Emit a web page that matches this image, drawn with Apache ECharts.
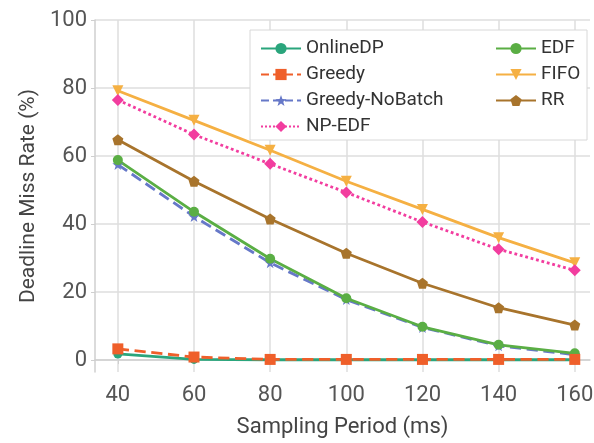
<!DOCTYPE html>
<html>
<head>
<meta charset="utf-8">
<script src="https://cdn.jsdelivr.net/npm/echarts@6/dist/echarts.min.js"></script>
<style>
  html, body { margin: 0; padding: 0; background: #fff; }
  #main { width: 594px; height: 443px; }
</style>
</head>
<body>
<div id="main"></div>
<script>
var periods = [40, 60, 80, 100, 120, 140, 160];
var xTicks = [40, 60, 80, 100, 120, 140, 160];
var yTicks = [0, 20, 40, 60, 80, 100];

var onlineDP = [1.8, 0.2, 0.1, 0.1, 0.1, 0.1, 0.1];
var greedy = [3.3, 0.9, 0.2, 0.2, 0.2, 0.2, 0.2];
var greedyNoBatch = [57.5, 42.2, 28.6, 17.8, 9.6, 4.2, 1.6];
var npEdf = [76.5, 66.3, 57.7, 49.3, 40.6, 32.6, 26.4];
var edf = [58.8, 43.6, 29.8, 18.2, 9.8, 4.5, 2.0];
var fifo = [79.2, 70.5, 61.7, 52.6, 44.3, 36.0, 28.6];
var rr = [64.8, 52.6, 41.5, 31.4, 22.6, 15.4, 10.3];

function pts(arr) {
  return arr.map(function (v, i) { return [periods[i], v]; });
}

var pentagon = 'path://M0,-10L9.51,-3.09L5.88,8.09L-5.88,8.09L-9.51,-3.09Z';
var star = 'path://M0,-10L2.35,-3.24L9.51,-3.09L3.8,1.24L5.88,8.09L0,4L-5.88,8.09L-3.8,1.24L-9.51,-3.09L-2.35,-3.24Z';

function line(name, data, color, symbol, size, type, rotate) {
  return {
    name: name,
    type: 'line',
    data: pts(data),
    symbol: symbol,
    symbolSize: size,
    symbolRotate: rotate || 0,
    lineStyle: { color: color, width: 2.8, type: type || 'solid' },
    itemStyle: { color: color },
    emphasis: { disabled: true }
  };
}

var mainDiv = document.getElementById('main');
var myChart = echarts.init(mainDiv);
var fontFam = 'Roboto, "Noto Sans", sans-serif';

var legendBase = {
  orient: 'vertical',
  top: 34,
  itemGap: 7,
  itemWidth: 40,
  itemHeight: 14,
  textStyle: { fontSize: 19, color: '#333', fontFamily: fontFam },
  z: 10
};

var option = {
  backgroundColor: '#ffffff',
  animation: false,
  textStyle: { fontFamily: fontFam },
  grid: { left: 95, right: 4, top: 20, bottom: 71, outerBoundsMode: 'none' },
  xAxis: {
    type: 'value',
    min: 34,
    max: 164,
    name: 'Sampling Period (ms)',
    nameLocation: 'middle',
    nameGap: 44,
    nameTextStyle: { fontSize: 22, color: '#444', fontFamily: fontFam },
    axisLine: { show: true, lineStyle: { color: '#cfcfcf', width: 1.5 } },
    axisTick: { show: true, length: 4, lineStyle: { color: '#cfcfcf' }, customValues: xTicks },
    axisLabel: { fontSize: 22, color: '#555', margin: 12, customValues: xTicks },
    splitLine: { show: true, lineStyle: { color: '#dedede', width: 1.5 } }
  },
  yAxis: {
    type: 'value',
    min: -3.5,
    max: 100,
    name: 'Deadline Miss Rate (%)',
    nameLocation: 'middle',
    nameGap: 56,
    nameTextStyle: { fontSize: 21, color: '#444', fontFamily: fontFam },
    axisLine: { show: true, lineStyle: { color: '#cfcfcf', width: 1.5 } },
    axisTick: { show: true, length: 4, lineStyle: { color: '#cfcfcf' }, customValues: yTicks },
    axisLabel: { fontSize: 22, color: '#555', margin: 8, customValues: yTicks },
    splitLine: { show: true, lineStyle: { color: '#dedede', width: 1.5 } }
  },
  graphic: [{
    type: 'rect',
    shape: { x: 250, y: 30, width: 337, height: 110 },
    style: { fill: '#ffffff', stroke: '#d8d8d8', lineWidth: 1 },
    z: 5
  }],
  legend: [
    Object.assign({}, legendBase, {
      left: 255,
      data: ['OnlineDP', 'Greedy', 'Greedy-NoBatch', 'NP-EDF']
    }),
    Object.assign({}, legendBase, {
      left: 490,
      data: ['EDF', 'FIFO', 'RR']
    })
  ],
  series: [
    line('Greedy-NoBatch', greedyNoBatch, '#6678c8', star, 11, 'dashed'),
    line('EDF', edf, '#5aae44', 'circle', 10),
    line('OnlineDP', onlineDP, '#2aa57c', 'circle', 9),
    line('Greedy', greedy, '#ef5f2a', 'rect', 11, 'dashed'),
    line('RR', rr, '#a8742c', pentagon, 11),
    line('FIFO', fifo, '#f5b043', 'triangle', 11, 'solid', 180),
    line('NP-EDF', npEdf, '#f23d9f', 'diamond', 12, 'dotted')
  ]
};
myChart.setOption(option);
</script>
</body>
</html>
